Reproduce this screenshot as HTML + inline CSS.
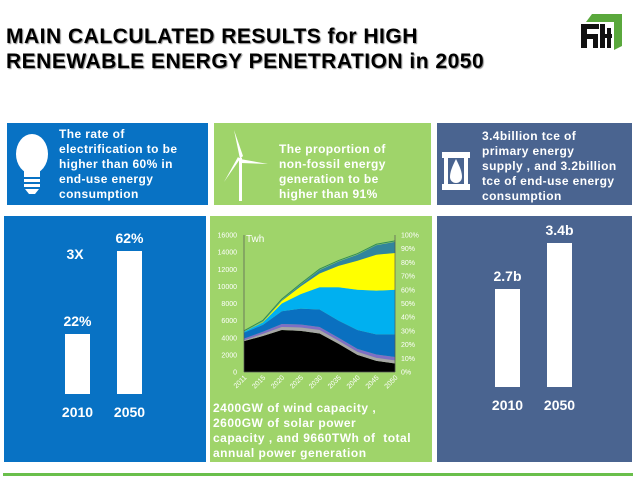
<!DOCTYPE html>
<html><head><meta charset="utf-8"><style>
body{margin:0;width:638px;height:479px;background:#fff;position:relative;overflow:hidden;font-family:"Liberation Sans",sans-serif}
.abs{position:absolute}
.title{left:6px;top:24px;font-weight:bold;font-size:21px;line-height:25px;color:#000;text-shadow:1px 1px 1px #888;letter-spacing:0.5px}
.panel{position:absolute}
.ptxt{position:absolute;color:#fff;font-weight:bold;font-size:12px;line-height:15px;letter-spacing:0.4px}
.big{position:absolute;color:#fff;font-weight:bold;font-size:14px;transform:translateX(-50%)}
</style></head><body>
<div class="abs title">MAIN CALCULATED RESULTS for HIGH<br>RENEWABLE ENERGY PENETRATION in 2050</div>
<svg class="abs" style="left:578px;top:12px" width="44" height="40">
<polygon points="14,2 44,2 44,34 36,38 36,10 8,10" fill="#5aa83c"/>
<rect x="3" y="12" width="18" height="5" fill="#111"/><rect x="3" y="12" width="6" height="24" fill="#111"/><rect x="3" y="22" width="14" height="5" fill="#111"/>
<rect x="15" y="22" width="5" height="14" fill="#111"/><rect x="22" y="12" width="5" height="24" fill="#111"/><rect x="22" y="22" width="12" height="4" fill="#111"/><rect x="29" y="16" width="4" height="20" fill="#111"/>
</svg>

<div class="panel" style="left:7px;top:123px;width:201px;height:82px;background:#0872c4"></div>
<svg class="abs" style="left:14px;top:133px" width="36" height="66">
<ellipse cx="18" cy="21" rx="16" ry="20" fill="#fff"/><rect x="10" y="36" width="16" height="8" fill="#fff"/>
<rect x="10" y="46" width="16" height="3" fill="#fff"/><rect x="10" y="51" width="16" height="3" fill="#fff"/><path d="M11,56 h14 l-4,5 h-6z" fill="#fff"/></svg>
<div class="ptxt" style="left:59px;top:127px">The rate of<br>electrification to be<br>higher than 60% in<br>end-use energy<br>consumption</div>

<div class="panel" style="left:214px;top:123px;width:217px;height:82px;background:#9fd46a"></div>
<svg class="abs" style="left:222px;top:130px" width="50" height="72">
<rect x="17" y="28" width="3" height="43" fill="#fff"/><path d="M18,29 L12,0 L21,26z M18,29 L46,34 L19,33z M18,29 L2,52 L16,27z" fill="#fff"/></svg>
<div class="ptxt" style="left:279px;top:142px">The proportion of<br>non-fossil energy<br>generation to be<br>higher than 91%</div>

<div class="panel" style="left:437px;top:123px;width:195px;height:82px;background:#4a6490"></div>
<svg class="abs" style="left:440px;top:150px" width="32" height="42">
<rect x="2" y="2" width="28" height="6" fill="#fff"/><rect x="2" y="34" width="28" height="6" fill="#fff"/><rect x="4" y="8" width="4" height="26" fill="#fff"/><rect x="24" y="8" width="4" height="26" fill="#fff"/>
<path d="M16,9 C12,17 10,22 10,27 A6,6 0 0 0 22,27 C22,22 20,17 16,9z" fill="#fff"/></svg>
<div class="ptxt" style="left:482px;top:129px">3.4billion tce of<br>primary energy<br>supply , and 3.2billion<br>tce of end-use energy<br>consumption</div>

<div class="panel" style="left:4px;top:216px;width:202px;height:246px;background:#0872c4"></div>
<div class="panel" style="left:210px;top:216px;width:222px;height:246px;background:#9fd46a"></div>
<div class="panel" style="left:437px;top:216px;width:195px;height:246px;background:#4a6490"></div>
<div class="abs" style="left:3px;top:473px;width:630px;height:3px;background:#6abf4b"></div>

<div id="bars"></div>
<div class="big" style="left:75px;top:246px">3X</div>

<svg id="area" class="abs" style="left:0;top:0" width="638" height="479"></svg>

<div class="ptxt" style="left:213px;top:401px;letter-spacing:0.5px">2400GW of wind capacity ,<br>2600GW of solar power<br>capacity , and 9660TWh of &nbsp;total<br>annual power generation</div>

<script>
// Bar charts
const elecYears=["2010","2050"];
const elecValues=[22,62];
const elecLabels=["22%","62%"];
const supplyYears=["2010","2050"];
const supplyValues=[2.7,3.4];
const supplyLabels=["2.7b","3.4b"];

// Area chart
const genYears=["2011","2015","2020","2025","2030","2035","2040","2045","2050"];
const coal=[3600,4200,4900,4800,4500,3300,2000,1300,1000];
const gas=[100,250,350,400,400,350,350,350,350];
const oil=[200,250,350,350,350,350,350,400,400];
const hydro=[700,800,1500,1850,2050,2000,2200,2350,2650];
const wind=[100,300,900,1700,2600,3900,4700,5100,5200];
const solar=[0,50,300,900,1600,2500,3400,4200,4300];
const other=[0,50,100,200,400,500,700,1100,1300];
const leftTicks=[0,2000,4000,6000,8000,10000,12000,14000,16000];
const rightTicks=["0%","10%","20%","30%","40%","50%","60%","70%","80%","90%","100%"];

const host=document.getElementById('bars');
function barGroup(years,vals,labels,xs,base,scale,v0,prefix){
  years.forEach((y,i)=>{
    const h=(vals[i]-v0)*scale;
    const b=document.createElement('div');
    b.className='abs';
    b.style.cssText=`left:${xs[i]}px;top:${base-h}px;width:25px;height:${h}px;background:#fff`;
    
    
    host.appendChild(b);
    const l=document.createElement('div');
    l.className='big';
    l.style.left=(xs[i]+12.5)+'px';l.style.top=(base-h-21)+'px';
    l.textContent=labels[i];
    
    
    host.appendChild(l);
    const t=document.createElement('div');
    t.className='big';
    t.style.left=(xs[i]+12.5)+'px';t.style.top=(base+10)+'px';
    t.textContent=y;
    
    
    host.appendChild(t);
  });
}
barGroup(elecYears,elecValues,elecLabels,[65,117],394,2.075,-6.9,'electrification');
barGroup(supplyYears,supplyValues,supplyLabels,[495,547],387,65.7,1.21,'energy-supply');

const svg=document.getElementById('area');const NS='http://www.w3.org/2000/svg';
const X=i=>244+i*18.9;
const Y=v=>372-v*(137/16000);
function mk(tag,attrs,name){const e=document.createElementNS(NS,tag);for(const k in attrs)e.setAttribute(k,attrs[k]);
  
  
  svg.appendChild(e);return e;}
const series=[[coal,'#000000','coal'],[gas,'#a6a6a6','gas'],[oil,'#7f6fc4','oil'],[hydro,'#0a70c0','hydro'],[wind,'#00b0f0','wind'],[solar,'#ffff00','solar'],[other,'#31859c','other']];
let cum=genYears.map(()=>0);
series.forEach(([arr,col,nm])=>{
  const lo=cum.slice();cum=cum.map((c,i)=>c+arr[i]);
  let d='M'+genYears.map((_,i)=>X(i)+','+Y(cum[i])).join(' L');
  for(let i=genYears.length-1;i>=0;i--)d+=' L'+X(i)+','+Y(lo[i]);
  mk('path',{d:d+'Z',fill:col},'area-'+nm);
});
mk('path',{d:'M'+genYears.map((_,i)=>X(i)+','+(Y(cum[i])-1)).join(' L'),stroke:'#2e8b57',fill:'none','stroke-width':1},'total-line');
mk('line',{x1:244,y1:235,x2:244,y2:372,stroke:'#555','stroke-width':0.7},'y-axis-left');
mk('line',{x1:395,y1:235,x2:395,y2:372,stroke:'#555','stroke-width':0.7},'y-axis-right');
mk('line',{x1:244,y1:372,x2:395,y2:372,stroke:'#555','stroke-width':0.7},'x-axis');
leftTicks.forEach(v=>{const t=mk('text',{x:237,y:Y(v)+2.5,'text-anchor':'end','font-size':7,fill:'#fff','font-family':'Liberation Sans, sans-serif'},'y-tick-label');t.textContent=v;});
rightTicks.forEach((s,i)=>{const t=mk('text',{x:401,y:Y(i*1600)+2.5,'font-size':7,fill:'#fff','font-family':'Liberation Sans, sans-serif'},'y2-tick-label');t.textContent=s;});
genYears.forEach((y,i)=>{const t=mk('text',{x:X(i)+3,y:378,'font-size':7,fill:'#fff','text-anchor':'end','font-family':'Liberation Sans, sans-serif',transform:`rotate(-45 ${X(i)+3} 378)`},'x-tick-label');t.textContent=y;});
const tw=mk('text',{x:246,y:242,'font-size':10,fill:'#fff','font-family':'Liberation Sans, sans-serif'},'y-axis-unit');tw.textContent='Twh';
</script>
</body></html>
